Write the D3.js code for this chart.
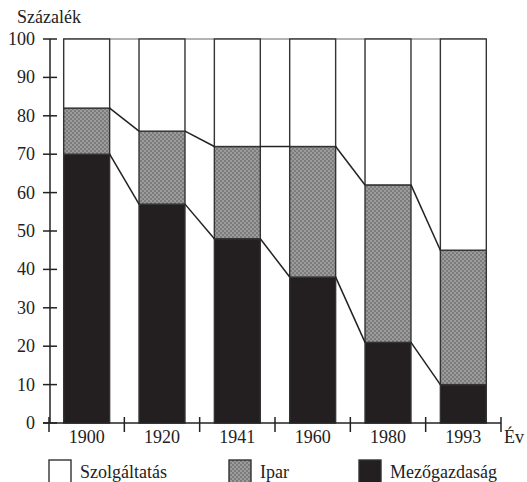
<!DOCTYPE html>
<html><head><meta charset="utf-8">
<script src="https://cdn.jsdelivr.net/npm/d3@7/dist/d3.min.js"></script>
<style>
body{margin:0;background:#fff}
svg{display:block}
</style>
</head><body><svg id="c" width="527" height="482"></svg>
<script>
const years = ["1900","1920","1941","1960","1980","1993"];
const mezo = [70,57,48,38,21,10];
const ipar = [12,19,24,34,41,35];
const szolg = [18,24,28,28,38,55];
const yTicks = [0,10,20,30,40,50,60,70,80,90,100];
const seriesNames = ["Szolgáltatás","Ipar","Mezőgazdaság"];

const svg = d3.select("#c");
const defs = svg.append("defs");
const pat = defs.append("pattern").attr("id","chk").attr("width",4).attr("height",4).attr("patternUnits","userSpaceOnUse");
pat.append("rect").attr("width",4).attr("height",4).attr("fill","#9c9c9c");
pat.append("rect").attr("width",2).attr("height",2).attr("fill","#7c7c7c");
pat.append("rect").attr("x",2).attr("y",2).attr("width",2).attr("height",2).attr("fill","#7c7c7c");

const x = d3.scaleBand().domain(years).range([49,501]).padding(0);
const y = d3.scaleLinear().domain([0,100]).range([423,39]);
const bw = x.bandwidth()*0.61;
const bl = d => x(d) + (x.bandwidth()-bw)/2;

const colors = {"Mezőgazdaság":"#231f20","Ipar":"url(#chk)","Szolgáltatás":"#fff"};
const stackData = years.map((yr,i)=>({yr, m:mezo[i], i:ipar[i], s:szolg[i]}));
const stacked = d3.stack().keys(["m","i","s"])(stackData);
const keyName = {m:"Mezőgazdaság", i:"Ipar", s:"Szolgáltatás"};

svg.append("line").attr("x1",bl(years[0])).attr("x2",bl(years[years.length-1])+bw)
  .attr("y1",y(100)).attr("y2",y(100)).attr("stroke","#9a9a9a").attr("stroke-width",1.5);

stacked.forEach(layer=>{
  svg.append("g").selectAll("rect").data(layer).join("rect")
    .attr("x",d=>bl(d.data.yr)).attr("width",bw)
    .attr("y",d=>y(d[1])).attr("height",d=>y(d[0])-y(d[1]))
    .attr("fill",colors[keyName[layer.key]])
    .attr("stroke","#333").attr("stroke-width",1.4);
});

["m","i"].forEach((k,li)=>{
  const layer = stacked[li];
  for(let j=0;j<years.length-1;j++){
    svg.append("line")
      .attr("x1",bl(years[j])+bw).attr("y1",y(layer[j][1]))
      .attr("x2",bl(years[j+1])).attr("y2",y(layer[j+1][1]))
      .attr("stroke","#222").attr("stroke-width",1.5);
  }
});

const ax = svg.append("g").attr("stroke","#222").attr("stroke-width",1.5);
ax.append("line").attr("x1",50).attr("x2",50).attr("y1",y(100)).attr("y2",y(0));
const txt = (xx,yy,s,anchor)=>svg.append("text").attr("x",xx).attr("y",yy)
  .style("font-family",'"Liberation Serif", FreeSerif, serif').style("font-size","18px")
  .attr("fill","#222").attr("text-anchor",anchor||"start").text(s);
yTicks.forEach(t=>{
  ax.append("line").attr("x1",43).attr("x2",57).attr("y1",y(t)).attr("y2",y(t));
  txt(35,y(t)+6,String(t),"end");
});
ax.append("line").attr("x1",43).attr("x2",501).attr("y1",y(0)).attr("y2",y(0));
const bounds = years.map(d=>x(d)).concat([x(years[years.length-1])+x.bandwidth()]);
bounds.forEach(b=>{
  ax.append("line").attr("x1",b).attr("x2",b).attr("y1",y(0)-6).attr("y2",y(0)+9);
});
years.forEach(yr=>txt(x(yr)+x.bandwidth()/2,443,yr,"middle"));
txt(504,443,"Év");
txt(17,23,"Százalék");

const legX = [49,229,359];
seriesNames.forEach((n,i)=>{
  svg.append("rect").attr("x",legX[i]).attr("y",460).attr("width",22).attr("height",24)
    .attr("fill",colors[n]).attr("stroke","#333").attr("stroke-width",1.4);
  txt(legX[i]+31,478,n);
});
</script></body></html>
